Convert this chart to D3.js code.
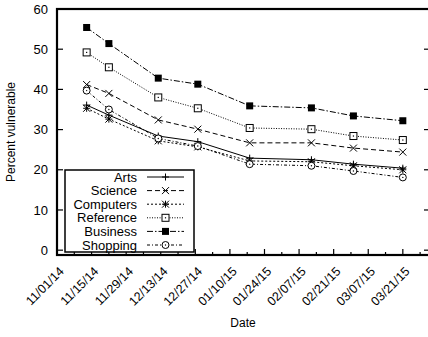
<!DOCTYPE html>
<html>
<head>
<meta charset="utf-8">
<script src="https://cdn.jsdelivr.net/npm/d3@7"></script>
<style>
  body { margin: 0; background: #fff; }
  svg { font-family: "Liberation Sans", Arial, sans-serif; }
</style>
</head>
<body>
<svg width="428" height="337"></svg>
<script>
const dates = ["11/13/14", "11/22/14", "12/12/14", "12/28/14", "01/18/15", "02/12/15", "03/01/15", "03/21/15"];
const arts = [36.1, 33.6, 28.4, 27.0, 22.9, 22.5, 21.4, 20.4];
const science = [41.2, 39.0, 32.4, 30.1, 26.7, 26.7, 25.4, 24.4];
const computers = [35.3, 32.6, 27.2, 25.7, 22.2, 22.0, 21.0, 20.0];
const reference = [49.2, 45.5, 38.0, 35.3, 30.4, 30.1, 28.4, 27.4];
const business = [55.4, 51.4, 42.8, 41.3, 35.9, 35.4, 33.4, 32.2];
const shopping = [39.7, 35.0, 27.8, 25.9, 21.4, 21.0, 19.7, 18.1];

const seriesNames = ["Arts", "Science", "Computers", "Reference", "Business", "Shopping"];
const seriesValues = [arts, science, computers, reference, business, shopping];
const dashes = [null, "5,3", "2,2", "1,1.5", "6,2,1.5,2", "3,2,1,2"];
const symbols = ["plus", "cross", "star", "square", "filled", "circle"];

const xTickLabels = ["11/01/14", "11/15/14", "11/29/14", "12/13/14", "12/27/14", "01/10/15",
                     "01/24/15", "02/07/15", "02/21/15", "03/07/15", "03/21/15"];
const yTicks = [0, 10, 20, 30, 40, 50, 60];

const parse = d3.timeParse("%m/%d/%y");
const svg = d3.select("svg");

const pl = 57, pr = 430, pt = 9, pb = 255;

const x = d3.scaleTime()
    .domain([parse("11/01/14"), parse("04/01/15")])
    .range([pl, pr]);
const y = d3.scaleLinear()
    .domain([-1.2, 60])
    .range([pb, pt]);

// minor ticks halfway between the labelled ones
const minorTicks = d3.range(0, 22).map(i => d3.timeDay.offset(parse("11/08/14"), i * 14))
    .filter(d => d < parse("04/01/15"));

const g = svg.append("g");

g.selectAll(".minor").data(minorTicks).join("line")
    .attr("x1", d => x(d)).attr("x2", d => x(d))
    .attr("y1", pb).attr("y2", pb - 3)
    .attr("stroke", "#000").attr("stroke-width", 1.2);

g.selectAll(".major").data(xTickLabels).join("line")
    .attr("x1", d => x(parse(d))).attr("x2", d => x(parse(d)))
    .attr("y1", pb).attr("y2", pb - 6)
    .attr("stroke", "#000").attr("stroke-width", 1.2);

g.selectAll(".xl").data(xTickLabels).join("text")
    .attr("transform", d => `translate(${x(parse(d)) + 1.5},${pb + 11}) rotate(-45)`)
    .attr("text-anchor", "end")
    .attr("font-size", 12.5)
    .attr("dy", "0.7em")
    .text(d => d);

// y ticks (left and right, inward)
g.selectAll(".yt").data(yTicks).join("line")
    .attr("x1", pl).attr("x2", pl + 6)
    .attr("y1", d => y(d)).attr("y2", d => y(d))
    .attr("stroke", "#000").attr("stroke-width", 1.2);
g.selectAll(".yt2").data(yTicks).join("line")
    .attr("x1", pr).attr("x2", pr - 6)
    .attr("y1", d => y(d)).attr("y2", d => y(d))
    .attr("stroke", "#000").attr("stroke-width", 1.2);
g.selectAll(".yl").data(yTicks).join("text")
    .attr("x", pl - 9).attr("y", d => y(d))
    .attr("dy", "0.35em")
    .attr("text-anchor", "end")
    .attr("font-size", 13)
    .text(d => d);

// axis titles
svg.append("text")
    .attr("transform", `translate(15,${(pt + pb) / 2}) rotate(-90)`)
    .attr("text-anchor", "middle")
    .attr("font-size", 12)
    .text("Percent vulnerable");
svg.append("text")
    .attr("x", 243).attr("y", 327)
    .attr("text-anchor", "middle")
    .attr("font-size", 12)
    .text("Date");

function drawSymbol(sel, type, cx, cy) {
    const s = 3.5;
    if (type === "plus") {
        sel.append("path").attr("d", `M${cx - s},${cy}H${cx + s}M${cx},${cy - s}V${cy + s}`)
            .attr("stroke", "#000").attr("fill", "none");
    } else if (type === "cross") {
        sel.append("path").attr("d", `M${cx - s},${cy - s}L${cx + s},${cy + s}M${cx - s},${cy + s}L${cx + s},${cy - s}`)
            .attr("stroke", "#000").attr("fill", "none");
    } else if (type === "star") {
        sel.append("path").attr("d", `M${cx - s},${cy - s}L${cx + s},${cy + s}M${cx - s},${cy + s}L${cx + s},${cy - s}M${cx - s},${cy}H${cx + s}M${cx},${cy - s}V${cy + s}`)
            .attr("stroke", "#000").attr("fill", "none");
    } else if (type === "square") {
        sel.append("rect").attr("x", cx - s).attr("y", cy - s).attr("width", 2 * s).attr("height", 2 * s)
            .attr("fill", "#fff").attr("stroke", "#000");
        sel.append("rect").attr("x", cx - 0.6).attr("y", cy - 0.6).attr("width", 1.2).attr("height", 1.2)
            .attr("fill", "#000");
    } else if (type === "filled") {
        sel.append("rect").attr("x", cx - s).attr("y", cy - s).attr("width", 2 * s).attr("height", 2 * s)
            .attr("fill", "#000");
    } else if (type === "circle") {
        sel.append("circle").attr("cx", cx).attr("cy", cy).attr("r", s)
            .attr("fill", "#fff").attr("stroke", "#000");
        sel.append("circle").attr("cx", cx).attr("cy", cy).attr("r", 0.7).attr("fill", "#000");
    }
}

const line = d3.line()
    .x((d, i) => x(parse(dates[i])))
    .y(d => y(d));

seriesValues.forEach((vals, k) => {
    const sg = svg.append("g");
    sg.append("path")
        .attr("d", line(vals))
        .attr("fill", "none")
        .attr("stroke", "#000")
        .attr("stroke-width", 1)
        .attr("stroke-dasharray", dashes[k]);
    vals.forEach((v, i) => drawSymbol(sg, symbols[k], x(parse(dates[i])), y(v)));
});

// legend
const lg = svg.append("g");
lg.append("rect")
    .attr("x", 65).attr("y", 170).attr("width", 129).attr("height", 82)
    .attr("fill", "#fff").attr("stroke", "#000").attr("stroke-width", 1.5);
seriesNames.forEach((name, k) => {
    const ly = 177 + k * 13.6;
    lg.append("text")
        .attr("x", 137).attr("y", ly)
        .attr("dy", "0.35em")
        .attr("text-anchor", "end")
        .attr("font-size", 13)
        .text(name);
    lg.append("line")
        .attr("x1", 147).attr("x2", 184).attr("y1", ly).attr("y2", ly)
        .attr("stroke", "#000").attr("stroke-width", 1)
        .attr("stroke-dasharray", dashes[k]);
    drawSymbol(lg, symbols[k], 165.5, ly);
});

// frame
svg.append("rect")
    .attr("x", pl).attr("y", pt)
    .attr("width", pr - pl).attr("height", pb - pt)
    .attr("fill", "none").attr("stroke", "#000").attr("stroke-width", 2.2);
</script>
</body>
</html>
